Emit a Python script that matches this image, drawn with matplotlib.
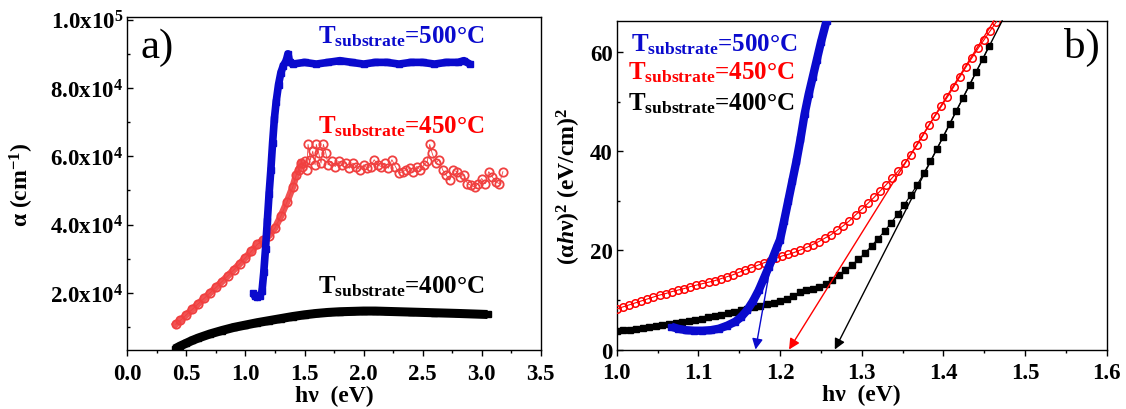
import matplotlib
matplotlib.use("Agg")
import matplotlib.pyplot as plt
from matplotlib.ticker import MultipleLocator, FixedLocator, FixedFormatter

plt.rcParams['font.family'] = ['Liberation Serif', 'DejaVu Serif', 'DejaVu Sans']
plt.rcParams['font.weight'] = 'bold'
plt.rcParams['mathtext.fontset'] = 'custom'
plt.rcParams['mathtext.rm'] = 'Liberation Serif:bold'
plt.rcParams['mathtext.bf'] = 'Liberation Serif:bold'
plt.rcParams['mathtext.it'] = 'Liberation Serif:italic:bold'

# ---------------- panel a) : alpha vs photon energy ----------------
a_x_500 = [1.065, 1.08, 1.10, 1.12, 1.14, 1.155, 1.17, 1.185, 1.20, 1.215, 1.23,
           1.245, 1.26, 1.28, 1.30, 1.32, 1.345, 1.36, 1.375, 1.40, 1.50, 1.60,
           1.70, 1.80, 1.90, 2.00, 2.10, 2.20, 2.30, 2.40, 2.50, 2.60, 2.70, 2.80,
           2.85, 2.90]
a_y_500 = [2.0e4, 1.9e4, 1.87e4, 1.9e4, 2.05e4, 2.6e4, 3.3e4, 4.1e4, 4.9e4, 5.6e4,
           6.4e4, 7.1e4, 7.6e4, 8.1e4, 8.45e4, 8.65e4, 8.8e4, 9.0e4, 8.75e4, 8.7e4,
           8.75e4, 8.7e4, 8.75e4, 8.8e4, 8.75e4, 8.7e4, 8.75e4, 8.75e4, 8.7e4,
           8.75e4, 8.75e4, 8.7e4, 8.75e4, 8.75e4, 8.8e4, 8.7e4]

a_x_450 = [0.41, 0.45, 0.50, 0.55, 0.60, 0.65, 0.70, 0.75, 0.80, 0.85, 0.90, 0.95,
           1.00, 1.05, 1.10, 1.15, 1.20, 1.25, 1.30, 1.35, 1.40, 1.43, 1.45, 1.47,
           1.48, 1.50, 1.52, 1.53, 1.55, 1.57, 1.59, 1.60, 1.62, 1.64, 1.66, 1.68,
           1.70, 1.73, 1.76, 1.79, 1.82, 1.85, 1.88, 1.91, 1.94, 1.97, 2.00, 2.03,
           2.06, 2.09, 2.12, 2.15, 2.18, 2.21, 2.24, 2.27, 2.30, 2.33, 2.36, 2.39,
           2.42, 2.45, 2.48, 2.51, 2.54, 2.56, 2.58, 2.61, 2.64, 2.67, 2.70, 2.73,
           2.76, 2.79, 2.82, 2.85, 2.88, 2.91, 2.94, 2.97, 3.00, 3.03, 3.06, 3.09,
           3.12, 3.15, 3.18]
a_y_450 = [1.08e4, 1.2e4, 1.36e4, 1.52e4, 1.68e4, 1.84e4, 2.0e4, 2.16e4, 2.33e4,
           2.5e4, 2.67e4, 2.85e4, 3.03e4, 3.22e4, 3.42e4, 3.55e4, 3.68e4, 3.9e4,
           4.25e4, 4.65e4, 5.1e4, 5.45e4, 5.6e4, 5.8e4,
           5.7e4, 5.85e4, 5.6e4, 6.35e4, 5.9e4, 6.15e4, 5.75e4, 6.35e4, 6.1e4, 5.8e4,
           6.35e4, 6.1e4, 5.75e4, 5.85e4, 5.7e4, 5.85e4, 5.75e4, 5.8e4, 5.65e4,
           5.8e4, 5.7e4, 5.6e4, 5.75e4, 5.65e4, 5.7e4, 5.9e4, 5.75e4, 5.7e4, 5.8e4,
           5.65e4, 5.9e4, 5.7e4, 5.5e4, 5.55e4, 5.6e4, 5.65e4, 5.55e4, 5.7e4, 5.6e4,
           5.75e4, 5.85e4, 6.35e4, 6.1e4, 5.8e4, 5.9e4, 5.6e4, 5.45e4, 5.3e4, 5.6e4,
           5.55e4, 5.4e4, 5.45e4, 5.2e4, 5.15e4, 5.1e4, 5.2e4, 5.35e4, 5.2e4, 5.55e4,
           5.4e4, 5.25e4, 5.2e4, 5.55e4]

a_x_400 = [0.40, 0.45, 0.50, 0.55, 0.60, 0.70, 0.80, 0.90, 1.00, 1.10, 1.20, 1.30,
           1.40, 1.50, 1.60, 1.70, 1.80, 1.90, 2.00, 2.10, 2.20, 2.40, 2.60, 2.80,
           3.05]
a_y_400 = [3.6e3, 4.5e3, 5.3e3, 6.1e3, 6.8e3, 8.0e3, 9.0e3, 9.9e3, 1.06e4, 1.13e4,
           1.19e4, 1.25e4, 1.31e4, 1.36e4, 1.40e4, 1.43e4, 1.45e4, 1.46e4, 1.47e4,
           1.47e4, 1.46e4, 1.44e4, 1.42e4, 1.40e4, 1.37e4]

a_yticks = [2e4, 4e4, 6e4, 8e4, 1e5]
a_yticklabels = ['2.0x10$^{4}$', '4.0x10$^{4}$', '6.0x10$^{4}$', '8.0x10$^{4}$',
                 '1.0x10$^{5}$']
a_xticks = [0.0, 0.5, 1.0, 1.5, 2.0, 2.5, 3.0, 3.5]

# ---------------- panel b) : Tauc plot ----------------
b_x_500 = [1.067, 1.075, 1.085, 1.095, 1.105, 1.115, 1.125, 1.135, 1.145, 1.152,
           1.160, 1.167, 1.174, 1.180, 1.186, 1.191, 1.196, 1.200, 1.205, 1.210,
           1.215, 1.220, 1.225, 1.230, 1.235, 1.240, 1.245, 1.250, 1.257]
b_y_500 = [4.6, 4.2, 3.9, 3.8, 3.8, 3.9, 4.2, 4.8, 5.6, 6.5,
           8.0, 9.8, 12.0, 14.3, 16.6, 18.5, 20.6, 22.2, 26.0, 30.0,
           34.0, 38.0, 42.5, 47.5, 51.5, 55.0, 58.5, 62.0, 66.4]

b_x_450 = [1.000, 1.0075, 1.015, 1.0225, 1.030, 1.0375, 1.045, 1.0525, 1.060, 1.0675,
           1.075, 1.0825, 1.090, 1.0975, 1.105, 1.1125, 1.120, 1.1275, 1.135, 1.1425,
           1.150, 1.1575, 1.165, 1.1725, 1.180, 1.1875, 1.195, 1.2025, 1.210, 1.2175,
           1.225, 1.2325, 1.240, 1.2475, 1.255, 1.2625, 1.270, 1.2775, 1.285, 1.2925,
           1.300, 1.3075, 1.315, 1.3225, 1.330, 1.3375, 1.345, 1.3525, 1.360, 1.3675,
           1.375, 1.3825, 1.390, 1.3975, 1.405, 1.4125, 1.420, 1.4275, 1.435, 1.4425,
           1.450, 1.4575, 1.465]
b_y_450 = [8.2, 8.6, 9.0, 9.4, 9.8, 10.2, 10.6, 11.0, 11.3, 11.7,
           12.0, 12.3, 12.7, 13.0, 13.3, 13.6, 13.9, 14.3, 14.7, 15.1,
           15.6, 16.1, 16.5, 17.0, 17.5, 17.9, 18.4, 18.9, 19.2, 19.6,
           20.1, 20.6, 21.2, 21.8, 22.5, 23.2, 24.1, 25.0, 26.0, 27.2,
           28.3, 29.5, 30.7, 32.0, 33.3, 34.7, 36.1, 37.6, 39.3, 41.2,
           43.2, 45.3, 47.2, 49.1, 51.0, 53.0, 55.0, 57.0, 58.9, 60.8,
           62.6, 64.4, 66.2]

b_x_400 = [1.000, 1.008, 1.016, 1.024, 1.032, 1.040, 1.048, 1.056, 1.064, 1.072,
           1.080, 1.088, 1.096, 1.104, 1.112, 1.120, 1.128, 1.136, 1.144, 1.152,
           1.160, 1.168, 1.176, 1.184, 1.192, 1.200, 1.208, 1.216, 1.224, 1.232,
           1.240, 1.248, 1.256, 1.264, 1.272, 1.280, 1.288, 1.296, 1.304, 1.312,
           1.320, 1.328, 1.336, 1.344, 1.352, 1.360, 1.368, 1.376, 1.384, 1.392,
           1.400, 1.408, 1.416, 1.424, 1.432, 1.440, 1.448, 1.456]
b_y_400 = [3.7, 3.9, 4.0, 4.2, 4.4, 4.5, 4.7, 4.9, 5.1, 5.3,
           5.5, 5.7, 6.0, 6.2, 6.5, 6.7, 7.0, 7.3, 7.6, 7.9,
           8.1, 8.5, 8.8, 9.1, 9.4, 9.8, 10.3, 10.9, 11.6, 12.0,
           12.3, 12.7, 13.3, 14.1, 15.0, 16.0, 17.1, 18.2, 19.5, 20.9,
           22.4, 23.9, 25.6, 27.3, 29.2, 31.2, 33.3, 35.6, 38.0, 40.5,
           43.0, 45.6, 48.2, 50.8, 53.4, 56.0, 58.6, 61.3]

# tangent (band-gap) lines: start point (x, y) -> intercept on energy axis
fit_500 = (1.190, 18.5, 1.170)
fit_450 = (1.462, 66.4, 1.211)
fit_400 = (1.472, 66.4, 1.267)

b_xticks = [1.0, 1.1, 1.2, 1.3, 1.4, 1.5, 1.6]
b_yticks = [0, 20, 40, 60]

labels = ['T$_{\\mathbf{substrate}}$=500\u00b0C',
          'T$_{\\mathbf{substrate}}$=450\u00b0C',
          'T$_{\\mathbf{substrate}}$=400\u00b0C']

BLUE = '#0A0ACD'
RED_A = '#F04040'
RED = '#FF0000'
BLACK = '#000000'

TICK_FS = 16.5
LAB_FS = 17
ANN_FS = 18

fig = plt.figure(figsize=(11.26, 4.10), dpi=100)

# ---------- left panel ----------
axa = fig.add_axes([0.1131, 0.1439, 0.3671, 0.8115])
axa.plot(a_x_400, a_y_400, color=BLACK, lw=6.5, marker='s', ms=5,
         solid_capstyle='butt', zorder=2)
axa.plot(a_x_450, a_y_450, color=RED_A, lw=0.6, marker='o', ms=6,
         mfc='none', mec=RED_A, mew=1.3, zorder=3)
axa.plot(a_x_450[:24], a_y_450[:24], color=RED_A, lw=5, alpha=0.9, zorder=3)
axa.plot(a_x_500, a_y_500, color=BLUE, lw=5.5, marker='s', ms=4.5,
         solid_capstyle='butt', zorder=4)

axa.set_xlim(0.0, 3.5)
axa.set_ylim(3300, 100700)
axa.xaxis.set_major_locator(FixedLocator(a_xticks))
axa.xaxis.set_minor_locator(MultipleLocator(0.25))
axa.yaxis.set_major_locator(FixedLocator(a_yticks))
axa.yaxis.set_major_formatter(FixedFormatter(a_yticklabels))
axa.yaxis.set_minor_locator(MultipleLocator(1e4))
axa.set_xticklabels([f'{v:.1f}' for v in a_xticks])

axa.set_xlabel('h\u03bd  (eV)', fontsize=LAB_FS, fontweight='bold')
axa.set_ylabel('\u03b1 (cm$^{\\mathbf{-1}}$)', fontsize=LAB_FS, fontweight='bold')
axa.xaxis.set_label_coords(0.5, -0.105)
axa.yaxis.set_label_coords(-0.222, 0.5)

axa.text(0.031, 0.88, 'a)', transform=axa.transAxes, fontsize=31,
         fontweight='normal', ha='left', va='baseline')
axa.text(0.461, 0.925, labels[0], transform=axa.transAxes, color=BLUE,
         fontsize=ANN_FS, fontweight='bold', ha='left', va='baseline')
axa.text(0.461, 0.655, labels[1], transform=axa.transAxes, color=RED,
         fontsize=ANN_FS, fontweight='bold', ha='left', va='baseline')
axa.text(0.461, 0.174, labels[2], transform=axa.transAxes, color=BLACK,
         fontsize=ANN_FS, fontweight='bold', ha='left', va='baseline')

# ---------- right panel ----------
axb = fig.add_axes([0.5477, 0.1451, 0.4352, 0.8020])
axb.plot(b_x_400, b_y_400, color=BLACK, lw=0.8, marker='s', ms=4.8,
         mfc=BLACK, mec=BLACK, zorder=2)
axb.plot(b_x_450, b_y_450, color=RED, lw=0.8, marker='o', ms=5.4,
         mfc='none', mec=RED, mew=1.1, zorder=3)
axb.plot(b_x_500, b_y_500, color=BLUE, lw=6, marker='s', ms=4,
         solid_capstyle='butt', zorder=4)

for fit, col in ((fit_500, BLUE), (fit_450, RED), (fit_400, BLACK)):
    axb.annotate('', xy=(fit[2], 0), xytext=(fit[0], fit[1]),
                 arrowprops=dict(arrowstyle='-|>', color=col, lw=1.0,
                                 mutation_scale=16, shrinkA=0, shrinkB=0),
                 zorder=5)

axb.set_xlim(1.0, 1.6)
axb.set_ylim(0, 66.4)
axb.xaxis.set_major_locator(FixedLocator(b_xticks))
axb.xaxis.set_minor_locator(MultipleLocator(0.05))
axb.yaxis.set_major_locator(FixedLocator(b_yticks))
axb.yaxis.set_minor_locator(MultipleLocator(10))
axb.set_xticklabels([f'{v:.1f}' for v in b_xticks])
axb.set_yticklabels([str(v) for v in b_yticks])

axb.set_xlabel('h\u03bd  (eV)', fontsize=LAB_FS, fontweight='bold')
axb.set_ylabel('(\u03b1$\\mathit{h}$\u03bd)$^{\\mathbf{2}}$ (eV/cm)$^{\\mathbf{2}}$',
               fontsize=LAB_FS, fontweight='bold')
axb.xaxis.set_label_coords(0.5, -0.105)
axb.yaxis.set_label_coords(-0.068, 0.5)

axb.text(0.986, 0.89, 'b)', transform=axb.transAxes, fontsize=31,
         fontweight='normal', ha='right', va='baseline')
axb.text(0.030, 0.909, labels[0], transform=axb.transAxes, color=BLUE,
         fontsize=ANN_FS, fontweight='bold', ha='left', va='baseline')
axb.text(0.024, 0.823, labels[1], transform=axb.transAxes, color=RED,
         fontsize=ANN_FS, fontweight='bold', ha='left', va='baseline')
axb.text(0.024, 0.731, labels[2], transform=axb.transAxes, color=BLACK,
         fontsize=ANN_FS, fontweight='bold', ha='left', va='baseline')

for ax in (axa, axb):
    for sp in ax.spines.values():
        sp.set_linewidth(1.0)
    ax.tick_params(axis='x', which='major', direction='out', length=4, width=1,
                   pad=5, labelsize=TICK_FS)
    ax.tick_params(axis='x', which='minor', direction='out', length=2.5, width=1)
    ax.tick_params(axis='y', which='major', direction='in', length=4, width=1,
                   pad=3, labelsize=TICK_FS)
    ax.tick_params(axis='y', which='minor', direction='in', length=2.5, width=1)
    for lab in ax.get_xticklabels() + ax.get_yticklabels():
        lab.set_fontweight('bold')

fig.savefig('out.png', dpi=100)
